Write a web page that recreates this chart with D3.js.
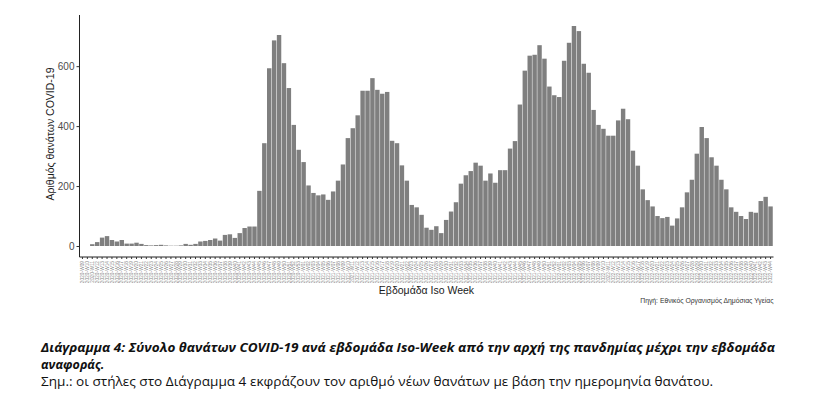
<!DOCTYPE html>
<html>
<head>
<meta charset="utf-8">
<script src="https://cdn.jsdelivr.net/npm/d3@7"></script>
<style>
  html, body { margin: 0; padding: 0; background: #ffffff; }
  svg { display: block; }
</style>
</head>
<body>
<svg id="chart" width="840" height="404"></svg>
<script>
// ---- data ----
const weeks = [
  "2020-W09","2020-W10","2020-W11","2020-W12","2020-W13","2020-W14","2020-W15","2020-W16","2020-W17","2020-W18",
  "2020-W19","2020-W20","2020-W21","2020-W22","2020-W23","2020-W24","2020-W25","2020-W26","2020-W27","2020-W28",
  "2020-W29","2020-W30","2020-W31","2020-W32","2020-W33","2020-W34","2020-W35","2020-W36","2020-W37","2020-W38",
  "2020-W39","2020-W40","2020-W41","2020-W42","2020-W43","2020-W44","2020-W45","2020-W46","2020-W47","2020-W48",
  "2020-W49","2020-W50","2020-W51","2020-W52","2020-W53","2021-W01","2021-W02","2021-W03","2021-W04","2021-W05",
  "2021-W06","2021-W07","2021-W08","2021-W09","2021-W10","2021-W11","2021-W12","2021-W13","2021-W14","2021-W15",
  "2021-W16","2021-W17","2021-W18","2021-W19","2021-W20","2021-W21","2021-W22","2021-W23","2021-W24","2021-W25",
  "2021-W26","2021-W27","2021-W28","2021-W29","2021-W30","2021-W31","2021-W32","2021-W33","2021-W34","2021-W35",
  "2021-W36","2021-W37","2021-W38","2021-W39","2021-W40","2021-W41","2021-W42","2021-W43","2021-W44","2021-W45",
  "2021-W46","2021-W47","2021-W48","2021-W49","2021-W50","2021-W51","2021-W52","2022-W01","2022-W02","2022-W03",
  "2022-W04","2022-W05","2022-W06","2022-W07","2022-W08","2022-W09","2022-W10","2022-W11","2022-W12","2022-W13",
  "2022-W14","2022-W15","2022-W16","2022-W17","2022-W18","2022-W19","2022-W20","2022-W21","2022-W22","2022-W23",
  "2022-W24","2022-W25","2022-W26","2022-W27","2022-W28","2022-W29","2022-W30","2022-W31","2022-W32","2022-W33",
  "2022-W34","2022-W35","2022-W36","2022-W37","2022-W38","2022-W39","2022-W40","2022-W41","2022-W42","2022-W43",
  "2022-W44"
];
const deaths = [
  0, 0, 6, 13, 28, 33, 20, 15, 20, 8,
  8, 11, 7, 3, 2, 3, 4, 2, 1, 1,
  2, 7, 4, 7, 15, 17, 20, 25, 18, 37,
  39, 27, 43, 60, 65, 65, 184, 343, 593, 686,
  704, 610, 527, 404, 321, 280, 202, 177, 169, 172,
  154, 182, 218, 272, 360, 393, 436, 518, 518, 560,
  521, 508, 514, 351, 343, 269, 218, 137, 129, 104,
  61, 54, 66, 43, 87, 115, 146, 208, 236, 250,
  278, 268, 218, 242, 211, 253, 253, 325, 350, 472,
  585, 635, 638, 670, 625, 532, 503, 497, 618, 678,
  734, 717, 608, 578, 454, 404, 391, 368, 368, 419,
  458, 423, 318, 268, 189, 153, 132, 100, 93, 97,
  68, 92, 129, 179, 221, 308, 397, 360, 296, 268,
  221, 189, 129, 114, 100, 90, 114, 111, 150, 164,
  132
];
const yTicks = [0, 200, 400, 600];
const yTitle = "Αριθμός θανάτων COVID-19";
const xTitle = "Εβδομάδα Iso Week";
const sourceText = "Πηγή: Εθνικός Οργανισμός Δημόσιας Υγείας";
const captionBold = ["Διάγραμμα 4: Σύνολο θανάτων COVID-19 ανά εβδομάδα Iso-Week από την αρχή της πανδημίας μέχρι την εβδομάδα", "αναφοράς."];
const captionNote = "Σημ.: οι στήλες στο Διάγραμμα 4 εκφράζουν τον αριθμό νέων θανάτων με βάση την ημερομηνία θανάτου.";

(function () {
// ---- layout ----
const svg = d3.select("#chart");
const pLeft = 79.5, pRight = 773.5, pTop = 15, pBottom = 257;
const maxV = d3.max(deaths);
const pad = maxV * 0.05;

const x = d3.scaleBand().domain(weeks).range([pLeft, pRight]).paddingInner(0.1).paddingOuter(0.15);
const y = d3.scaleLinear().domain([-pad, maxV + pad]).range([pBottom, pTop]);

// bars
svg.append("g").selectAll("rect").data(weeks).join("rect")
  .attr("x", d => x(d))
  .attr("width", x.bandwidth())
  .attr("y", (d, i) => y(deaths[i]))
  .attr("height", (d, i) => y(0) - y(deaths[i]))
  .attr("fill", "#7f7f7f");

// y axis
const yAxis = svg.append("g").attr("transform", `translate(${pLeft},0)`)
  .call(d3.axisLeft(y).tickValues(yTicks).tickSize(3).tickPadding(2).tickFormat(d3.format("d")));
yAxis.select(".domain").attr("stroke", "#222").attr("stroke-width", 1).attr("d", `M0,${pTop}V${pBottom}`);
yAxis.selectAll(".tick line").attr("stroke", "#333");
yAxis.selectAll(".tick text").attr("fill", "#4d4d4d").attr("font-family", "Liberation Sans, Arial, sans-serif").attr("font-size", 10);

// x axis
const xAxis = svg.append("g").attr("transform", `translate(0,${pBottom})`)
  .call(d3.axisBottom(x).tickSize(2).tickPadding(2));
xAxis.select(".domain").attr("stroke", "#222").attr("stroke-width", 1).attr("d", `M${pLeft},0H${pRight}`);
xAxis.selectAll(".tick line").attr("stroke", "#333");
xAxis.selectAll(".tick text")
  .attr("font-family", "Liberation Sans, Arial, sans-serif")
  .attr("font-size", 4.8)
  .attr("fill", "#8a8a8a")
  .attr("text-anchor", "end")
  .attr("dy", "0.35em")
  .attr("transform", "translate(0,4) rotate(-90)")
  .attr("x", 0).attr("y", 0);

// titles
svg.append("text")
  .attr("transform", "translate(54,134) rotate(-90)")
  .attr("text-anchor", "middle")
  .attr("font-family", "Liberation Sans, Arial, sans-serif")
  .attr("font-size", 10.5).attr("fill", "#1a1a1a")
  .text(yTitle);

svg.append("text")
  .attr("x", (pLeft + pRight) / 2).attr("y", 294)
  .attr("text-anchor", "middle")
  .attr("font-family", "Liberation Sans, Arial, sans-serif")
  .attr("font-size", 10.5).attr("fill", "#1a1a1a")
  .text(xTitle);

svg.append("text")
  .attr("x", pRight).attr("y", 303)
  .attr("text-anchor", "end")
  .attr("font-family", "Liberation Sans, Arial, sans-serif")
  .attr("font-size", 6.8).attr("fill", "#333")
  .text(sourceText);

// caption
svg.append("text")
  .attr("x", 41).attr("y", 352)
  .attr("font-family", "Open Sans, Noto Sans, sans-serif")
  .attr("font-weight", "bold").attr("font-style", "italic")
  .attr("font-size", 12.5).attr("fill", "#111")
  .attr("textLength", 734).attr("lengthAdjust", "spacingAndGlyphs")
  .text(captionBold[0]);
svg.append("text")
  .attr("x", 41).attr("y", 369)
  .attr("font-family", "Open Sans, Noto Sans, sans-serif")
  .attr("font-weight", "bold").attr("font-style", "italic")
  .attr("font-size", 12.5).attr("fill", "#111")
  .text(captionBold[1]);
svg.append("text")
  .attr("x", 41).attr("y", 386)
  .attr("font-family", "Open Sans, Noto Sans, sans-serif")
  .attr("font-size", 12.5).attr("fill", "#111")
  .attr("textLength", 672).attr("lengthAdjust", "spacingAndGlyphs")
  .text(captionNote);
})();
</script>
</body>
</html>
